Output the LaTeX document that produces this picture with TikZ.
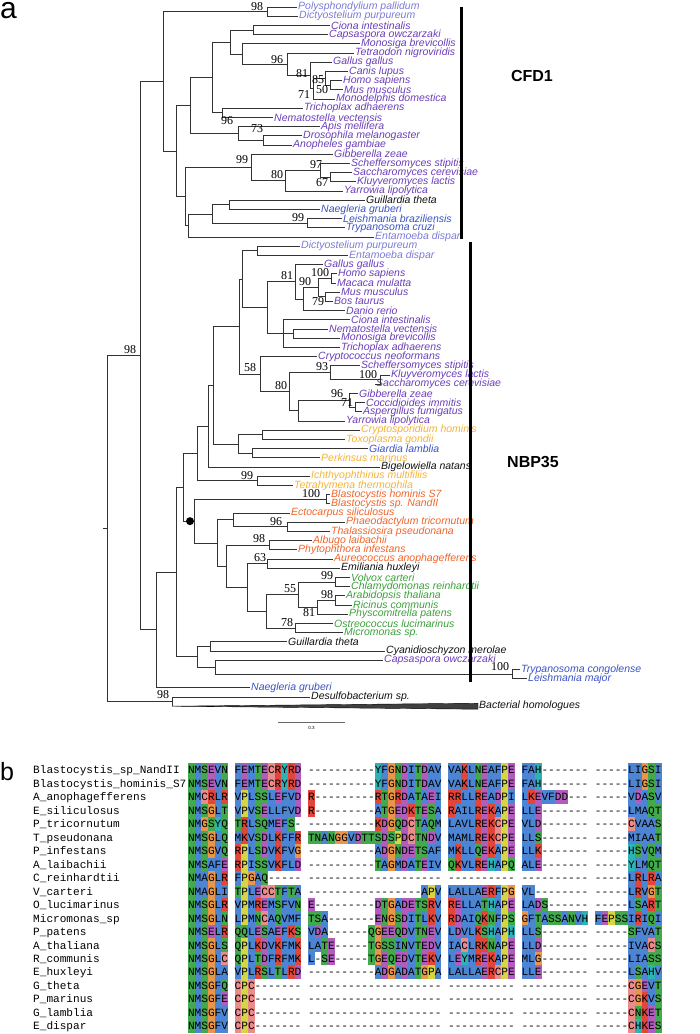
\documentclass[tikz,border=0pt]{standalone}
\usepackage{fontspec}
\setmainfont{Liberation Sans}
\newfontfamily\supfont{Liberation Serif}
\newfontfamily\monof{Liberation Mono}
\definecolor{amoe}{HTML}{7B7BD6}
\definecolor{opis}{HTML}{6A3DB8}
\definecolor{exc}{HTML}{3A52C4}
\definecolor{alv}{HTML}{F5B335}
\definecolor{stram}{HTML}{F0642A}
\definecolor{grn}{HTML}{3AA03A}
\definecolor{blk}{HTML}{111111}
\definecolor{aablue}{HTML}{4D85D5}
\definecolor{aared}{HTML}{E2453A}
\definecolor{aamag}{HTML}{B25DBD}
\definecolor{aagreen}{HTML}{43A94D}
\definecolor{aaorange}{HTML}{E8964A}
\definecolor{aayellow}{HTML}{D5D545}
\definecolor{aacyan}{HTML}{2DB2B5}
\definecolor{aapink}{HTML}{EB8C8C}
\colorlet{aaA}{aablue}\colorlet{aaI}{aablue}\colorlet{aaL}{aablue}\colorlet{aaM}{aablue}
\colorlet{aaF}{aablue}\colorlet{aaV}{aablue}\colorlet{aaW}{aablue}
\colorlet{aaK}{aared}\colorlet{aaR}{aared}
\colorlet{aaE}{aamag}\colorlet{aaD}{aamag}
\colorlet{aaN}{aagreen}\colorlet{aaQ}{aagreen}\colorlet{aaS}{aagreen}\colorlet{aaT}{aagreen}
\colorlet{aaG}{aaorange}\colorlet{aaP}{aayellow}
\colorlet{aaH}{aacyan}\colorlet{aaY}{aacyan}\colorlet{aaC}{aapink}
\newcount\aac
\def\aaend{\aaend}
\newcommand\aacell[1]{%
  \if#1.\relax\else
    \if#1-\relax
      \node[aachar] at ({188+(\the\aac+0.5)*6.67},\aay+3.9) {-};
    \else
      \fill[aa#1] ({188+\the\aac*6.67},\aay-6.74) rectangle ++(6.67,13.48);
      \node[aachar] at ({188+(\the\aac+0.5)*6.67},\aay+3.9) {#1};
    \fi
  \fi
  \global\advance\aac by 1\relax}
\def\aaloop#1{\ifx#1\aaend\else\aacell{#1}\expandafter\aaloop\fi}
\newcommand\aarow[4]{% id, y, name, seq
  \node[aaname] (#1) at (33,#2+3.9) {#3};
  \def\aay{#2}\global\aac=0 \aaloop#4\aaend}
\newcommand\leaf[5]{\node[taxon,text=#4] (#1) at (#2,#3) {#5};}
\newcommand\inner[3]{\coordinate (#1) at (#2,#3);}
\begin{document}
\begin{tikzpicture}[x=1pt,y=-1pt,
  brl/.style={draw=black!80,line width=0.9pt},
  taxon/.style={anchor=west,inner sep=1pt,font=\fontsize{10.5}{10.5}\selectfont\itshape},
  sup/.style={inner sep=0pt,font=\supfont\fontsize{12}{12}\selectfont},
  clade/.style={font=\bfseries\fontsize{16}{16}\selectfont},
  aachar/.style={anchor=base,inner sep=0pt,font=\monof\fontsize{11.1}{11.1}\selectfont},
  aaname/.style={anchor=base west,inner sep=0pt,font=\monof\fontsize{11.1}{11.1}\selectfont}]
\useasboundingbox (0,0) rectangle (700,1034);
\node[anchor=base west,inner sep=0pt,font=\fontsize{30}{30}\selectfont] (pa) at (0,18.3) {a};
\node[anchor=base west,inner sep=0pt,font=\fontsize{25}{25}\selectfont] (pb) at (0,780) {b};
% ---------------- leaves CFD1
\leaf{L0}{297}{7.0}{amoe}{Polysphondylium pallidum}
\leaf{L1}{298}{16.2}{amoe}{Dictyostelium purpureum}
\leaf{L2}{330}{25.4}{opis}{Ciona intestinalis}
\leaf{L3}{328}{34.6}{opis}{Capsaspora owczarzaki}
\leaf{L4}{360}{43.8}{opis}{Monosiga brevicollis}
\leaf{L5}{354}{53.0}{opis}{Tetraodon nigroviridis}
\leaf{L6}{332}{62.2}{opis}{Gallus gallus}
\leaf{L7}{348}{71.4}{opis}{Canis lupus}
\leaf{L8}{342}{80.6}{opis}{Homo sapiens}
\leaf{L9}{343}{89.8}{opis}{Mus musculus}
\leaf{L10}{335}{99.0}{opis}{Monodelphis domestica}
\leaf{L11}{303}{108.2}{opis}{Trichoplax adhaerens}
\leaf{L12}{273}{117.4}{opis}{Nematostella vectensis}
\leaf{L13}{320}{126.6}{opis}{Apis mellifera}
\leaf{L14}{302}{135.8}{opis}{Drosophila melanogaster}
\leaf{L15}{292}{145.0}{opis}{Anopheles gambiae}
\leaf{L16}{333}{154.2}{opis}{Gibberella zeae}
\leaf{L17}{350}{163.4}{opis}{Scheffersomyces stipitis}
\leaf{L18}{352}{172.6}{opis}{Saccharomyces cerevisiae}
\leaf{L19}{356}{181.8}{opis}{Kluyveromyces lactis}
\leaf{L20}{343}{191.0}{opis}{Yarrowia lipolytica}
\leaf{L21}{365}{200.2}{blk}{Guillardia theta}
\leaf{L22}{320}{209.4}{exc}{Naegleria gruberi}
\leaf{L23}{342}{218.6}{exc}{Leishmania braziliensis}
\leaf{L24}{345}{227.8}{exc}{Trypanosoma cruzi}
\leaf{L25}{374}{237.0}{amoe}{Entamoeba dispar}
% ---------------- leaves NBP35
\leaf{L26}{300}{246.2}{amoe}{Dictyostelium purpureum}
\leaf{L27}{348}{255.4}{amoe}{Entamoeba dispar}
\leaf{L28}{323}{264.6}{opis}{Gallus gallus}
\leaf{L29}{337}{273.8}{opis}{Homo sapiens}
\leaf{L30}{336}{283.0}{opis}{Macaca mulatta}
\leaf{L31}{340}{292.2}{opis}{Mus musculus}
\leaf{L32}{333}{301.4}{opis}{Bos taurus}
\leaf{L33}{345}{310.6}{opis}{Danio rerio}
\leaf{L34}{350}{319.8}{opis}{Ciona intestinalis}
\leaf{L35}{328}{329.0}{opis}{Nematostella vectensis}
\leaf{L36}{340}{338.2}{opis}{Monosiga brevicollis}
\leaf{L37}{340}{347.4}{opis}{Trichoplax adhaerens}
\leaf{L38}{317}{356.6}{opis}{Cryptococcus neoformans}
\leaf{L39}{360}{365.8}{opis}{Scheffersomyces stipitis}
\leaf{L40}{390}{375.0}{opis}{Kluyveromyces lactis}
\leaf{L41}{375}{384.2}{opis}{Saccharomyces cerevisiae}
\leaf{L42}{358}{393.4}{opis}{Gibberella zeae}
\leaf{L43}{365}{402.6}{opis}{Coccidioides immitis}
\leaf{L44}{362}{411.8}{opis}{Aspergillus fumigatus}
\leaf{L45}{345}{421.0}{opis}{Yarrowia lipolytica}
\leaf{L46}{360}{430.2}{alv}{Cryptosporidium hominis}
\leaf{L47}{345}{439.4}{alv}{Toxoplasma gondii}
\leaf{L48}{368}{448.6}{exc}{Giardia lamblia}
\leaf{L49}{320}{457.8}{alv}{Perkinsus marinus}
\leaf{L50}{380}{467.0}{blk}{Bigelowiella natans}
\leaf{L51}{310}{476.2}{alv}{Ichthyophthirius multifiliis}
\leaf{L52}{293}{485.4}{alv}{Tetrahymena thermophila}
\leaf{L53}{330}{494.6}{stram}{Blastocystis hominis S7}
\leaf{L54}{330}{503.8}{stram}{Blastocystis sp. NandII}
\leaf{L55}{290}{513.0}{stram}{Ectocarpus siliculosus}
\leaf{L56}{345}{522.2}{stram}{Phaeodactylum tricornutum}
\leaf{L57}{330}{531.4}{stram}{Thalassiosira pseudonana}
\leaf{L58}{312}{540.6}{stram}{Albugo laibachii}
\leaf{L59}{297}{549.8}{stram}{Phytophthora infestans}
\leaf{L60}{333}{559.0}{stram}{Aureococcus anophagefferens}
\leaf{L61}{340}{568.2}{blk}{Emiliania huxleyi}
\leaf{L62}{350}{577.4}{grn}{Volvox carteri}
\leaf{L63}{350}{586.6}{grn}{Chlamydomonas reinhardtii}
\leaf{L64}{345}{595.8}{grn}{Arabidopsis thaliana}
\leaf{L65}{352}{605.0}{grn}{Ricinus communis}
\leaf{L66}{348}{614.2}{grn}{Physcomitrella patens}
\leaf{L67}{333}{623.4}{grn}{Ostreococcus lucimarinus}
\leaf{L68}{343}{632.6}{grn}{Micromonas sp.}
\leaf{L69}{287}{641.8}{blk}{Guillardia theta}
\leaf{L70}{385}{651.0}{blk}{Cyanidioschyzon merolae}
\leaf{L71}{383}{660.2}{opis}{Capsaspora owczarzaki}
\leaf{L72}{520}{669.4}{exc}{Trypanosoma congolense}
\leaf{L73}{527}{678.6}{exc}{Leishmania major}
\leaf{L74}{250}{687.8}{exc}{Naegleria gruberi}
\leaf{L75}{310}{697.0}{blk}{Desulfobacterium sp.}
\leaf{L76}{478}{706.2}{blk}{Bacterial homologues}
% ---------------- internal nodes CFD1
\inner{dP}{267}{11.6}
\inner{cC}{253}{30.0}
\inner{n50}{330}{85.2}
\inner{n85}{325}{78.3}
\inner{n71}{313}{88.65}
\inner{n81}{310}{75.4}
\inner{n96a}{287}{64.2}
\inner{nL}{242}{54.0}
\inner{nK}{230}{42.0}
\inner{nTN}{222}{112.8}
\inner{nJ}{212}{77.4}
\inner{n73}{263}{140.4}
\inner{n96i}{238}{133.5}
\inner{nAn}{190}{105.45}
\inner{n67}{330}{177.2}
\inner{n97}{320}{170.3}
\inner{n80}{285}{180.65}
\inner{n99f}{251}{167.4}
\inner{nI}{229}{204.8}
\inner{n99k}{307}{223.2}
\inner{nH}{212}{214.0}
\inner{nG}{188}{225.5}
\inner{nF}{185}{196.5}
\inner{nC}{176}{151.0}
\inner{nA}{163}{81.3}
% ---------------- internal nodes NBP35
\inner{nDE}{257}{250.8}
\inner{n100h}{331}{278.4}
\inner{n79}{325}{296.8}
\inner{n318}{318}{287.6}
\inner{n90}{303}{299.1}
\inner{n81b}{295}{281.85}
\inner{n293}{293}{333.6}
\inner{n283}{283}{333.6}
\inner{nAnim}{267}{307.7}
\inner{n242}{242}{279.25}
\inner{n100s}{380}{379.6}
\inner{n93}{330}{372.7}
\inner{n71b}{355}{407.2}
\inner{n96b}{349}{400.3}
\inner{n298}{298}{410.65}
\inner{n80b}{289}{391.7}
\inner{n58}{260}{374.15}
\inner{n239}{239}{326.7}
\inner{nCT}{262}{434.8}
\inner{nGP}{252}{453.2}
\inner{n238}{238}{444.0}
\inner{n213}{213}{385.35}
\inner{n208}{208}{426.2}
\inner{n99i}{257}{480.8}
\inner{n197}{197}{453.5}
\inner{nBl}{326}{499.2}
\inner{n96d}{287}{526.8}
\inner{n233}{233}{519.9}
\inner{n98o}{269}{545.2}
\inner{n63}{267}{563.6}
\inner{n99v}{335}{582.0}
\inner{n98a}{335}{600.4}
\inner{n81g}{317}{607.3}
\inner{n55}{298}{594.65}
\inner{n78}{295}{628.0}
\inner{n266}{266}{611.3}
\inner{n247}{247}{587.45}
\inner{n226}{226}{566.3}
\inner{n217}{217}{543.1}
\inner{n194}{194}{521.15}
\inner{n183}{183}{487.3}
\inner{nGC}{210}{646.4}
\inner{n100t}{512}{674.0}
\inner{n215}{215}{667.1}
\inner{nQ}{197}{656.75}
\inner{nM}{176}{572.0}
\inner{nN}{156}{629.9}
\inner{nB}{140}{355.6}
\inner{nBac}{172}{701.6}
\inner{nR}{107}{528.6}
\coordinate (rootstub) at (103,528.6);
\coordinate (triapex) at (172,706.2);
% ---------------- branches
\foreach \p/\c in {dP/L0,dP/L1,cC/L2,cC/L3,nL/L4,n96a/L5,n81/L6,n85/L7,n50/L8,n50/L9,n71/L10,
  nTN/L11,nTN/L12,n96i/L13,n73/L14,n73/L15,n99f/L16,n97/L17,n67/L18,n67/L19,n80/L20,
  nI/L21,nI/L22,n99k/L23,n99k/L24,nG/L25,
  nDE/L26,nDE/L27,n81b/L28,n100h/L29,n100h/L30,n79/L31,n79/L32,n90/L33,n283/L34,n293/L35,n293/L36,n283/L37,
  n58/L38,n93/L39,n100s/L40,n100s/L41,n96b/L42,n71b/L43,n71b/L44,n298/L45,nCT/L46,nCT/L47,nGP/L48,nGP/L49,
  n208/L50,n99i/L51,n99i/L52,nBl/L53,nBl/L54,n233/L55,n96d/L56,n96d/L57,n98o/L58,n98o/L59,n63/L60,n63/L61,
  n99v/L62,n99v/L63,n98a/L64,n98a/L65,n81g/L66,n78/L67,n78/L68,nGC/L69,nGC/L70,n215/L71,n100t/L72,n100t/L73,
  nN/L74,nBac/L75}
  {\draw[brl] (\p) |- (\c.west);}
\foreach \p/\c in {n85/n50,n71/n85,n81/n71,n96a/n81,nL/n96a,nK/cC,nK/nL,nJ/nK,nJ/nTN,n96i/n73,nAn/nJ,nAn/n96i,
  n97/n67,n80/n97,n99f/n80,nH/nI,nH/n99k,nG/nH,nF/n99f,nF/nG,nC/nAn,nC/nF,nA/dP,nA/nC,
  n318/n100h,n318/n79,n90/n318,n81b/n90,n283/n293,nAnim/n81b,nAnim/n283,n242/nDE,n242/nAnim,
  n93/n100s,n96b/n71b,n298/n96b,n80b/n93,n80b/n298,n58/n80b,n239/n242,n239/n58,n238/nCT,n238/nGP,
  n213/n239,n213/n238,n208/n213,n197/n208,n197/n99i,n233/n96d,n81g/n98a,n55/n99v,n55/n81g,n266/n55,n266/n78,
  n247/n63,n247/n266,n226/n98o,n226/n247,n217/n233,n217/n226,n194/nBl,n194/n217,n183/n197,n183/n194,
  n215/n100t,nQ/nGC,nQ/n215,nM/n183,nM/nQ,nN/nM,nB/nA,nB/nN,nR/nB,nR/nBac,nBac/triapex}
  {\draw[brl] (\p) |- (\c);}
\draw[brl] (rootstub) -- (nR);
\fill[black!75,draw=black,line width=0.4pt] (triapex) -- ([yshift=3pt]L76.west) -- ([yshift=-3pt]L76.west) -- cycle;
\fill[black] (190,521.15) circle (4);
% ---------------- support values
\node[sup] (s1) at (257,7) {98};
\node[sup] (s2) at (277,60) {96};
\node[sup] (s3) at (302,74) {81};
\node[sup] (s4) at (318,80) {85};
\node[sup] (s5) at (322,90) {50};
\node[sup] (s6) at (304,95) {71};
\node[sup] (s7) at (227,121) {96};
\node[sup] (s8) at (257,129) {73};
\node[sup] (s9) at (242,160) {99};
\node[sup] (s10) at (316,165) {97};
\node[sup] (s11) at (277,175) {80};
\node[sup] (s12) at (322,183) {67};
\node[sup] (s13) at (298,218) {99};
\node[sup] (s14) at (287,276) {81};
\node[sup] (s15) at (320,273) {100};
\node[sup] (s16) at (305,282) {90};
\node[sup] (s17) at (318,302) {79};
\node[sup] (s18) at (130,350) {98};
\node[sup] (s19) at (250,368) {58};
\node[sup] (s20) at (322,367) {93};
\node[sup] (s21) at (281,386) {80};
\node[sup] (s22) at (337,394) {96};
\node[sup] (s23) at (368,375) {100};
\node[sup] (s24) at (347,403) {71};
\node[sup] (s25) at (247,476) {99};
\node[sup] (s26) at (311,494) {100};
\node[sup] (s27) at (276,522) {96};
\node[sup] (s28) at (259,539) {98};
\node[sup] (s29) at (260,558) {63};
\node[sup] (s30) at (327,576) {99};
\node[sup] (s31) at (290,589) {55};
\node[sup] (s32) at (327,595) {98};
\node[sup] (s33) at (309,613) {81};
\node[sup] (s34) at (287,623) {78};
\node[sup] (s35) at (500,667) {100};
\node[sup] (s36) at (163,695) {98};
% ---------------- clade bars
\draw[line width=3pt] (461,7) -- (461,239);
\draw[line width=3pt] (470,242) -- (470,682);
\node[clade] (cfd) at (532,76) {CFD1};
\node[clade] (nbp) at (533,462) {NBP35};
% scale bar
\draw[line width=0.6pt,black!60] (278,722) coordinate (sb1) -- (345,722) coordinate (sb2);
\node[font=\fontsize{4.5}{4.5}\selectfont,inner sep=0] (sbt) at (311.5,727.5) {0.3};
% ---------------- alignment
\aarow{a0}{770}{Blastocystis\_sp\_NandII}{NMSEVN.FEMTECRYRD.----------YFGNDITDAV.VAKLNEAFPE.FAH-------.-----LIGSI}
\aarow{a1}{783.47}{Blastocystis\_hominis\_S7}{NMSEVN.FEMTECRYRD.----------YFGNDITDAV.VAKLNEAFPE.FAH-------.-----LIGSI}
\aarow{a2}{796.94}{A\_anophagefferens}{NMCRLR.VPLSSLEFVD.R---------RTGRDATAEI.RRLLREADPI.LKEVFDD---.-----VDASV}
\aarow{a3}{810.41}{E\_siliculosus}{NMSGLT.VPVSELLFVD.R---------ATGEDKTESA.RAILREKAPE.LLE-------.-----LMAQT}
\aarow{a4}{823.88}{P\_tricornutum}{NMGSYQ.TRLSQMEFS-.----------KDGQDCTAQM.LAVLREKCPE.VLD-------.-----CVAAS}
\aarow{a5}{837.35}{T\_pseudonana}{NMSGLQ.MKVSDLKFFR.TNANGGVDTTSDSPDCTNDV.MAMLREKCPE.LLS-------.-----MIAAT}
\aarow{a6}{850.82}{P\_infestans}{NMSGVQ.RPLSDVKFVG.----------ADGNDETSAF.MKLLQEKAPE.LLK-------.-----HSVQM}
\aarow{a7}{864.29}{A\_laibachii}{NMSAFE.RPISSVKFLD.----------TAGMDATEIV.QKVLREHAPQ.ALE-------.-----YLMQT}
\aarow{a8}{877.76}{C\_reinhardtii}{NMAGLR.FPGAQ-----.--------------------.----------.----------.-----LRLRA}
\aarow{a9}{891.23}{V\_carteri}{NMAGLI.TPLECCTFTA.-----------------APV.LALLAERFPG.VL--------.-----LRVGT}
\aarow{a10}{904.7}{O\_lucimarinus}{NMSGLR.VPMREMSFVN.E---------DTGADETSRV.RELLATHAPE.LADS------.-----LSART}
\aarow{a11}{918.17}{Micromonas\_sp}{NMSGLN.LPMNCAQVMF.TSA-------ENGSDITLKV.RDAIQKNFPS.GFTASSANVH.FEPSSIRIQI}
\aarow{a12}{931.64}{P\_patens}{NMSELR.QQLESAEFKS.VDA------QGEEQDVTNEV.LDVLKSHAPH.LLS-------.-----SFVAT}
\aarow{a13}{945.11}{A\_thaliana}{NMSGLS.QPLKDVKFMK.LATE-----TGSSINVTEDV.IACLRKNAPE.LLD-------.-----IVACS}
\aarow{a14}{958.58}{R\_communis}{NMSGLC.QPLTDFRFMK.L-SE-----TGEQEDVTEKV.LEYMREKAPE.MLG-------.-----LIASS}
\aarow{a15}{972.05}{E\_huxleyi}{NMSGLA.VPLRSLTLRD.----------ADGADATGPA.LALLAERCPE.LLE-------.-----LSAHV}
\aarow{a16}{985.52}{G\_theta}{NMSGFQ.CPC-------.--------------------.----------.----------.-----CGEVT}
\aarow{a17}{998.99}{P\_marinus}{NMSGFE.CPC-------.--------------------.----------.----------.-----CGKVS}
\aarow{a18}{1012.46}{G\_lamblia}{NMSGFV.CPC-------.--------------------.----------.----------.-----CNKET}
\aarow{a19}{1025.93}{E\_dispar}{NMSGFV.CPC-------.--------------------.----------.----------.-----CHKES}
\end{tikzpicture}
\end{document}
